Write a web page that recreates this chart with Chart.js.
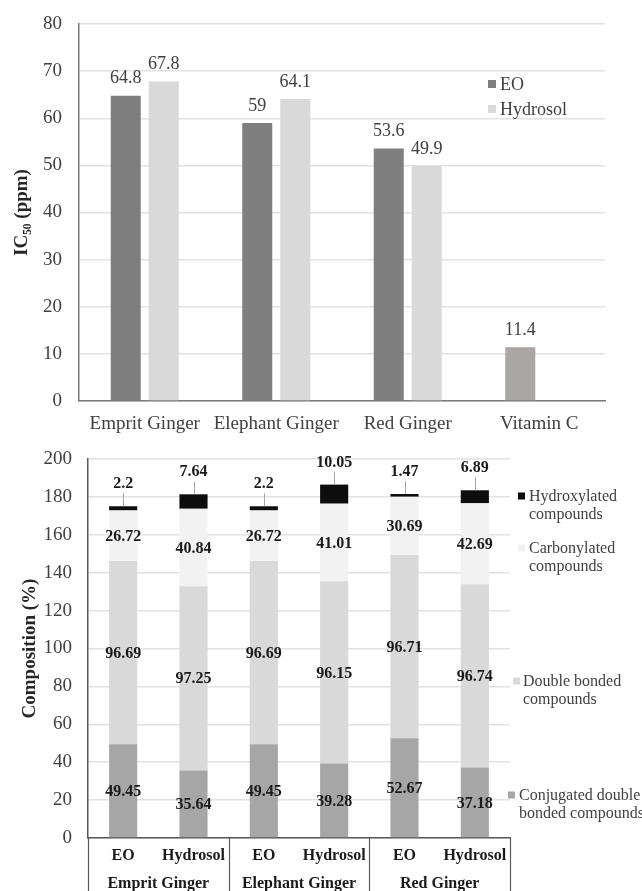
<!DOCTYPE html>
<html><head><meta charset="utf-8">
<script src="https://cdn.jsdelivr.net/npm/chart.js@4/dist/chart.umd.min.js"></script>
<style>
html,body{margin:0;padding:0;background:#fff;overflow:hidden;}
#w1{position:absolute;left:0;top:0;width:642px;height:440px;}
#w2{position:absolute;left:0;top:440px;width:642px;height:451px;}
canvas{display:block;}
</style></head><body>
<div id="w1"><canvas id="c1" width="642" height="440"></canvas></div>
<div id="w2"><canvas id="c2" width="642" height="451"></canvas></div>
<script>
// ---------- data: top chart ----------
const topCategories = ['Emprit Ginger', 'Elephant Ginger', 'Red Ginger', 'Vitamin C'];
const topEO = [64.8, 59, 53.6, 11.4];
const topHydrosol = [67.8, 64.1, 49.9, null];
const topSeriesNames = ['EO', 'Hydrosol'];

// ---------- data: bottom chart ----------
const bottomSamples = ['EO', 'Hydrosol', 'EO', 'Hydrosol', 'EO', 'Hydrosol'];
const bottomGroups = ['Emprit Ginger', 'Elephant Ginger', 'Red Ginger'];
const conjugated = [49.45, 35.64, 49.45, 39.28, 52.67, 37.18];
const doubleBonded = [96.69, 97.25, 96.69, 96.15, 96.71, 96.74];
const carbonylated = [26.72, 40.84, 26.72, 41.01, 30.69, 42.69];
const hydroxylated = [2.2, 7.64, 2.2, 10.05, 1.47, 6.89];
const bottomSeriesNames = [
  ['Conjugated double', 'bonded compounds'],
  ['Double bonded', 'compounds'],
  ['Carbonylated', 'compounds'],
  ['Hydroxylated', 'compounds']
];

const SERIF = '"Liberation Serif", "Times New Roman", serif';
const C_EO = '#7f7f7f', C_HY = '#d9d9d9', C_VC = '#aaa6a6';
const C_CONJ = '#a6a6a6', C_DBL = '#d9d9d9', C_CARB = '#f2f2f2', C_HYD = '#0d0d0d';

// ---------- top chart ----------
const topPlugin = {
  id: 'topPlugin',
  afterDatasetsDraw(chart) {
    const ctx = chart.ctx;
    ctx.save();
    ctx.font = '18px ' + SERIF;
    ctx.fillStyle = '#404040';
    ctx.textAlign = 'center';
    ctx.textBaseline = 'middle';
    chart.data.datasets.forEach((ds, i) => {
      const meta = chart.getDatasetMeta(i);
      meta.data.forEach((el, j) => {
        const v = ds.data[j];
        if (v === null || v === undefined) return;
        ctx.fillText(String(v), el.x, el.y - 17);
      });
    });
    // legend
    const a = chart.chartArea;
    const items = [[topSeriesNames[0], C_EO, 60], [topSeriesNames[1], C_HY, 85]];
    ctx.textAlign = 'left';
    items.forEach(([name, col, dy]) => {
      const mx = a.right - 117, my = a.top + dy;
      ctx.fillStyle = col;
      ctx.fillRect(mx, my - 4, 8, 8);
      ctx.fillStyle = '#404040';
      ctx.fillText(name, mx + 12, my + 1);
    });
    ctx.restore();
  }
};

new Chart(document.getElementById('c1'), {
  type: 'bar',
  data: {
    labels: topCategories,
    datasets: [
      { label: topSeriesNames[0], data: topEO, backgroundColor: [C_EO, C_EO, C_EO, C_VC],
        categoryPercentage: 0.578, barPercentage: 0.79 },
      { label: topSeriesNames[1], data: topHydrosol, backgroundColor: C_HY,
        categoryPercentage: 0.578, barPercentage: 0.79 }
    ]
  },
  options: {
    responsive: false, animation: false, devicePixelRatio: 1,
    layout: { padding: { top: 24, right: 37, bottom: 0, left: 0 } },
    plugins: { legend: { display: false }, tooltip: { enabled: false } },
    scales: {
      x: {
        grid: { display: false, drawTicks: false },
        border: { color: '#7a7a7a', width: 1.5 },
        ticks: { font: { family: SERIF, size: 19 }, color: '#404040', padding: 12, maxRotation: 0 },
        afterFit(s) { s.height = 39; }
      },
      y: {
        min: 0, max: 80,
        ticks: { stepSize: 10, font: { family: SERIF, size: 19 }, color: '#404040', padding: 17 },
        grid: { color: '#e2e2e2', drawTicks: false, lineWidth: 1.5 },
        border: { color: '#7a7a7a', width: 1.5 },
        title: { display: true, text: 'IC\u2085\u2080 (ppm)', font: { family: SERIF, size: 19, weight: 'bold' },
                 color: '#262626', padding: { top: 10.5, bottom: 0 } },
        afterFit(s) { s.width = 79; s.paddingTop = 0; s.paddingBottom = 0; }
      }
    }
  },
  plugins: [topPlugin]
});

// ---------- bottom chart ----------
const bottomPlugin = {
  id: 'bottomPlugin',
  afterDatasetsDraw(chart) {
    const ctx = chart.ctx;
    const a = chart.chartArea;
    const xs = chart.scales.x;
    ctx.save();
    ctx.textAlign = 'center';
    ctx.textBaseline = 'middle';
    ctx.font = 'bold 16px ' + SERIF;
    chart.data.datasets.forEach((ds, i) => {
      const meta = chart.getDatasetMeta(i);
      meta.data.forEach((el, j) => {
        const v = ds.data[j];
        if (i < 3) {
          ctx.fillStyle = '#1a1a1a';
          ctx.fillText(String(v), el.x, (el.y + el.base) / 2 + 1);
        } else {
          const ly = el.y - 22;
          ctx.strokeStyle = '#a6a6a6';
          ctx.lineWidth = 1;
          ctx.beginPath();
          ctx.moveTo(Math.round(el.x) + 0.5, el.y);
          ctx.lineTo(Math.round(el.x) + 0.5, ly + 9);
          ctx.stroke();
          ctx.fillStyle = '#1a1a1a';
          ctx.fillText(String(v), el.x, ly);
        }
      });
    });
    // table lines below the axis
    const H = chart.height;
    const half = (xs.getPixelForValue(1) - xs.getPixelForValue(0)) / 2;
    const bounds = [a.left];
    for (let g = 0; g < bottomGroups.length; g++) bounds.push(xs.getPixelForValue(2 * g + 1) + half);
    ctx.strokeStyle = '#595959';
    ctx.lineWidth = 1.2;
    bounds.forEach(bx => {
      ctx.beginPath();
      ctx.moveTo(Math.round(bx) + 0.5, a.bottom);
      ctx.lineTo(Math.round(bx) + 0.5, H);
      ctx.stroke();
    });
    // group labels
    ctx.fillStyle = '#1a1a1a';
    ctx.font = 'bold 16px ' + SERIF;
    bottomGroups.forEach((g, k) => {
      const cx = (xs.getPixelForValue(2 * k) + xs.getPixelForValue(2 * k + 1)) / 2;
      ctx.fillText(g, cx, a.bottom + 46);
    });
    // legend
    const leg = [
      { s: 3, col: C_HYD, mx: 8, tx: 19, dy: 37 },
      { s: 2, col: C_CARB, mx: 8, tx: 19, dy: 89 },
      { s: 1, col: C_DBL, mx: 3, tx: 13, dy: 222 },
      { s: 0, col: C_CONJ, mx: -2, tx: 9, dy: 336 }
    ];
    ctx.font = '16px ' + SERIF;
    ctx.textAlign = 'left';
    leg.forEach(it => {
      const y = a.top + it.dy;
      ctx.fillStyle = it.col;
      ctx.fillRect(a.right + it.mx, y - 3.5, 7, 7);
      ctx.fillStyle = '#404040';
      bottomSeriesNames[it.s].forEach((t, li) => ctx.fillText(t, a.right + it.tx, y + li * 18 + 1));
    });
    ctx.restore();
  }
};

const stackCommon = { categoryPercentage: 1.0, barPercentage: 0.4 };
new Chart(document.getElementById('c2'), {
  type: 'bar',
  data: {
    labels: bottomSamples,
    datasets: [
      Object.assign({ label: bottomSeriesNames[0].join(' '), data: conjugated, backgroundColor: C_CONJ }, stackCommon),
      Object.assign({ label: bottomSeriesNames[1].join(' '), data: doubleBonded, backgroundColor: C_DBL }, stackCommon),
      Object.assign({ label: bottomSeriesNames[2].join(' '), data: carbonylated, backgroundColor: C_CARB }, stackCommon),
      Object.assign({ label: bottomSeriesNames[3].join(' '), data: hydroxylated, backgroundColor: C_HYD }, stackCommon)
    ]
  },
  options: {
    responsive: false, animation: false, devicePixelRatio: 1,
    layout: { padding: { top: 19, right: 132, bottom: 0, left: 0 } },
    plugins: { legend: { display: false }, tooltip: { enabled: false } },
    scales: {
      x: {
        stacked: true,
        grid: { display: false, drawTicks: false },
        border: { color: '#595959', width: 1.5 },
        ticks: { font: { family: SERIF, size: 16, weight: 'bold' }, color: '#1a1a1a', padding: 8, maxRotation: 0 },
        afterFit(s) { s.height = 53; }
      },
      y: {
        stacked: true, min: 0, max: 200,
        ticks: { stepSize: 20, font: { family: SERIF, size: 19 }, color: '#404040', padding: 16 },
        grid: { color: '#e2e2e2', drawTicks: false, lineWidth: 1.5 },
        border: { color: '#595959', width: 1.5 },
        title: { display: true, text: 'Composition (%)', font: { family: SERIF, size: 19, weight: 'bold' },
                 color: '#262626', padding: { top: 18.5, bottom: 0 } },
        afterFit(s) { s.width = 88; s.paddingTop = 0; s.paddingBottom = 0; }
      }
    }
  },
  plugins: [bottomPlugin]
});
</script>
</body></html>
